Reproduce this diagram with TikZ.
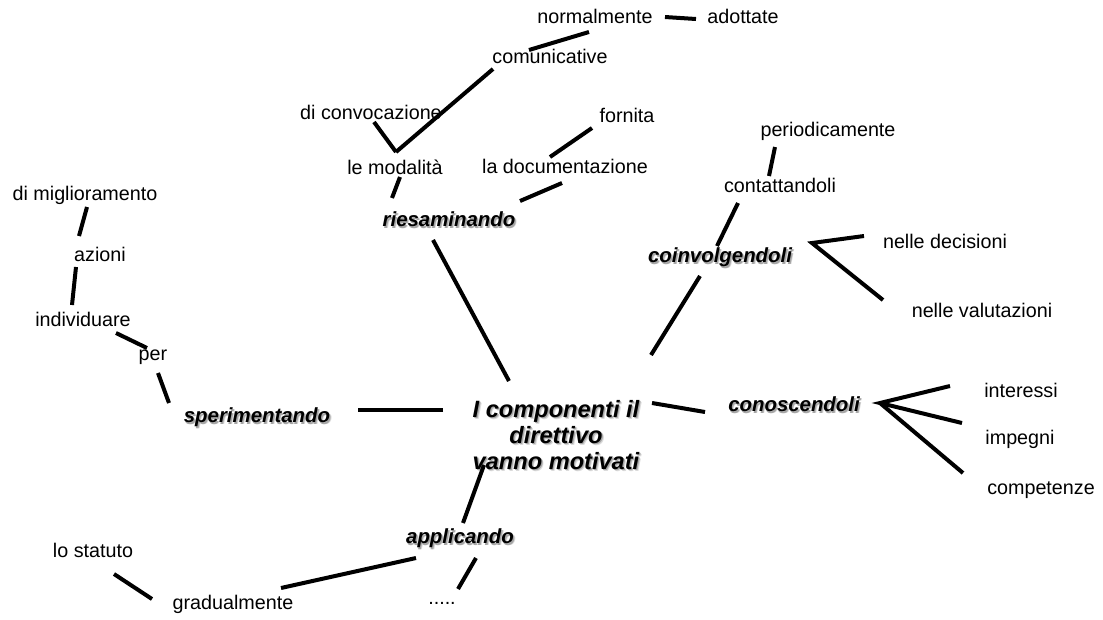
\documentclass[tikz,border=0pt]{standalone}
\usepackage{fontspec}
\setmainfont{Liberation Sans}
\begin{document}
\begin{tikzpicture}[x=0.75pt,y=-0.75pt,
  leaf/.style={font=\fontsize{14.8}{16}\selectfont, inner sep=0pt, text height=0.72em, text depth=0pt},
  key/.style={font=\fontsize{15.3}{17}\selectfont\bfseries\itshape, inner sep=0pt, text height=0.72em, text depth=0pt},
  keyhalo/.style={key, text=black!14, xshift=1.6pt, yshift=-1.6pt},
  keyshadow/.style={key, text=black!35, xshift=0.9pt, yshift=-0.9pt},
  hub/.style={font=\fontsize{17.7}{19.6}\selectfont\bfseries\itshape, inner sep=0pt, align=center},
  hubhalo/.style={hub, text=black!14, xshift=1.6pt, yshift=-1.6pt},
  hubshadow/.style={hub, text=black!35, xshift=0.9pt, yshift=-0.9pt},
  link/.style={line width=3pt, line cap=butt}]
\fill[white] (0,0) rectangle (1103,619);
\useasboundingbox (0,0) rectangle (1103,619);

% central concept, with a soft two-step drop shadow
\node[hubhalo] (hubH) at (556,435) {I componenti il\\direttivo\\vanno motivati};
\node[hubshadow] (hubS) at (556,435) {I componenti il\\direttivo\\vanno motivati};
\node[hub] (hub) at (556,435) {I componenti il\\direttivo\\vanno motivati};

% main branches (with soft shadow)
\node[keyhalo] (riesH) at (449,222) {riesaminando};
\node[keyshadow] (riesS) at (449,222) {riesaminando};
\node[key] (ries) at (449,222) {riesaminando};
\node[keyhalo] (coinH) at (720,258) {coinvolgendoli};
\node[keyshadow] (coinS) at (720,258) {coinvolgendoli};
\node[key] (coin) at (720,258) {coinvolgendoli};
\node[keyhalo] (conoH) at (794,407) {conoscendoli};
\node[keyshadow] (conoS) at (794,407) {conoscendoli};
\node[key] (cono) at (794,407) {conoscendoli};
\node[keyhalo] (speH) at (257,418) {sperimentando};
\node[keyshadow] (speS) at (257,418) {sperimentando};
\node[key] (spe) at (257,418) {sperimentando};
\node[keyhalo] (appH) at (460,539) {applicando};
\node[keyshadow] (appS) at (460,539) {applicando};
\node[key] (app) at (460,539) {applicando};

% secondary words
\node[leaf] (norm) at (595,19) {normalmente};
\node[leaf] (adot) at (743,19) {adottate};
\node[leaf] (comu) at (550,59) {comunicative};
\node[leaf] (conv) at (371,115) {di convocazione};
\node[leaf] (moda) at (395,170) {le modalità};
\node[leaf] (forn) at (627,118) {fornita};
\node[leaf] (docu) at (565,169) {la documentazione};
\node[leaf] (peri) at (828,132) {periodicamente};
\node[leaf] (cont) at (780,188) {contattandoli};
\node[leaf] (deci) at (945,244) {nelle decisioni};
\node[leaf] (valu) at (982,313) {nelle valutazioni};
\node[leaf] (inte) at (1021,393) {interessi};
\node[leaf] (impe) at (1020,440) {impegni};
\node[leaf] (comp) at (1041,490) {competenze};
\node[leaf] (migl) at (85,196) {di miglioramento};
\node[leaf] (azio) at (100,257) {azioni};
\node[leaf] (indi) at (83,322) {individuare};
\node[leaf] (per) at (153,356) {per};
\node[leaf] (stat) at (93,553) {lo statuto};
\node[leaf] (grad) at (233,605) {gradualmente};
\node[leaf] (dots) at (442,600) {.....};

% connector end points
\coordinate (normR) at (665,17);   \coordinate (adotL) at (696,19);
\coordinate (comuT) at (529,50);   \coordinate (normB) at (589,32);
\coordinate (comuB) at (493,69);   \coordinate (modaT) at (396,152);
\coordinate (convB) at (374,122);
\coordinate (fornB) at (592,128);  \coordinate (docuT) at (550,157);
\coordinate (modaB) at (400,177);  \coordinate (riesTL) at (392,198);
\coordinate (docuB) at (562,183);  \coordinate (riesTR) at (520,201);
\coordinate (riesB) at (433,240);  \coordinate (hubT) at (509,381);
\coordinate (hubR) at (652,403);   \coordinate (conoL) at (705,412);
\coordinate (conoV) at (880,403);
\coordinate (inteL) at (950,386);  \coordinate (impeL) at (962,423);
\coordinate (compL) at (963,473);
\coordinate (hubTR) at (651,355);  \coordinate (coinB) at (700,276);
\coordinate (coinT) at (717,246);  \coordinate (contB) at (738,203);
\coordinate (contT) at (769,176);  \coordinate (periB) at (775,147);
\coordinate (coinV) at (812,243);
\coordinate (deciL) at (864,236);  \coordinate (valuL) at (883,300);
\coordinate (hubL) at (443,410);   \coordinate (speR) at (358,410);
\coordinate (speT) at (169,403);   \coordinate (perB) at (158,373);
\coordinate (perT) at (147,348);   \coordinate (indiR) at (116,333);
\coordinate (indiT) at (72,305);   \coordinate (azioB) at (76,267);
\coordinate (azioT) at (79,236);   \coordinate (miglB) at (87,207);
\coordinate (hubB) at (484,465);   \coordinate (appT) at (463,523);
\coordinate (appB) at (476,558);   \coordinate (dotsT) at (458,589);
\coordinate (appL) at (416,558);   \coordinate (gradR) at (281,588);
\coordinate (gradL) at (152,599);  \coordinate (statB) at (114,574);

% connectors
\draw[link] (normR) -- (adotL);
\draw[link] (comuT) -- (normB);
\draw[link] (comuB) -- (modaT);
\draw[link] (convB) -- (modaT);
\draw[link] (fornB) -- (docuT);
\draw[link] (modaB) -- (riesTL);
\draw[link] (docuB) -- (riesTR);
\draw[link] (riesB) -- (hubT);
\draw[link] (hubR) -- (conoL);
\draw[link] (inteL) -- (conoV) -- (impeL);
\draw[link] (conoV) -- (compL);
\draw[link] (hubTR) -- (coinB);
\draw[link] (coinT) -- (contB);
\draw[link] (contT) -- (periB);
\draw[link] (deciL) -- (coinV) -- (valuL);
\draw[link] (hubL) -- (speR);
\draw[link] (speT) -- (perB);
\draw[link] (perT) -- (indiR);
\draw[link] (indiT) -- (azioB);
\draw[link] (azioT) -- (miglB);
\draw[link] (hubB) -- (appT);
\draw[link] (appB) -- (dotsT);
\draw[link] (appL) -- (gradR);
\draw[link] (gradL) -- (statB);
\end{tikzpicture}
\end{document}
